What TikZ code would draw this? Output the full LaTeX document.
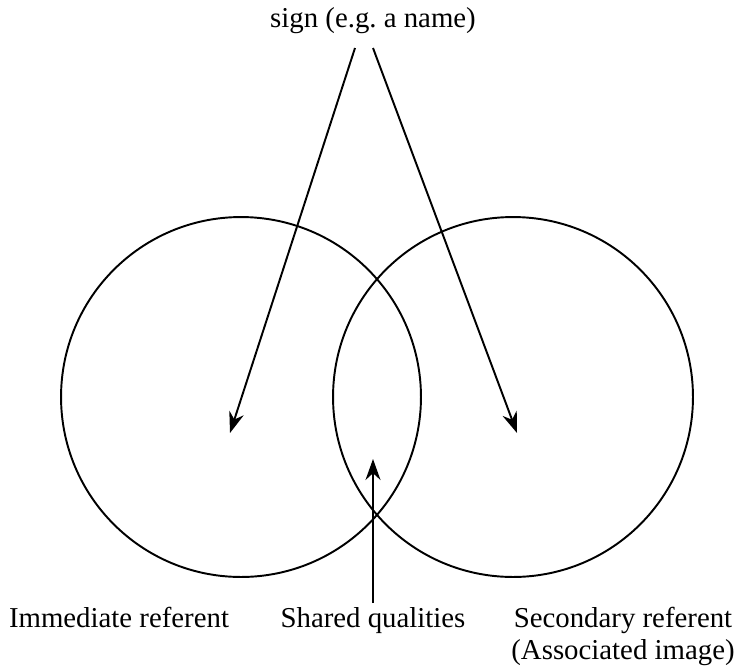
\documentclass[tikz,border=0pt]{standalone}
\usepackage{fontspec}
\setmainfont{Liberation Serif}
\usetikzlibrary{arrows.meta, positioning}

\begin{document}
\begin{tikzpicture}[
    x=0.02cm, y=-0.02cm,
    every node/.style={font=\fontsize{16.4}{18}\selectfont, inner sep=2pt},
    ring/.style={draw, circle, line width=1.1pt, minimum size=7.2cm, inner sep=0pt},
    arrow/.style={-{Stealth[length=0.42cm, width=0.3cm]}, line width=1.1pt}
]
\useasboundingbox (0,0) rectangle (736,670);

% Circles
\node[ring] (immediate circle) at (241,397) {};
\node[ring] (secondary circle) at (513,397) {};

% Labels
\node[anchor=base] (sign) at (373,27) {sign (e.g.\ a name)};
\node[anchor=base] (immediate) at (119,627) {Immediate referent};
\node[anchor=base] (shared) at (373,627) {Shared qualities};
\node[anchor=north, align=center, inner sep=0pt] (secondary) at (623,607) {Secondary referent\\(Associated image)};

% Arrow ends
\coordinate (sign left) at (355,48);
\coordinate (sign right) at (373,48);
\coordinate (immediate tip) at (230,433);
\coordinate (secondary tip) at (517,433);
\coordinate (shared tip) at (373,459);

% Arrows
\draw[arrow] (sign left) -- (immediate tip);
\draw[arrow] (sign right) -- (secondary tip);
\draw[arrow] (shared) -- (shared tip);

\end{tikzpicture}
\end{document}
